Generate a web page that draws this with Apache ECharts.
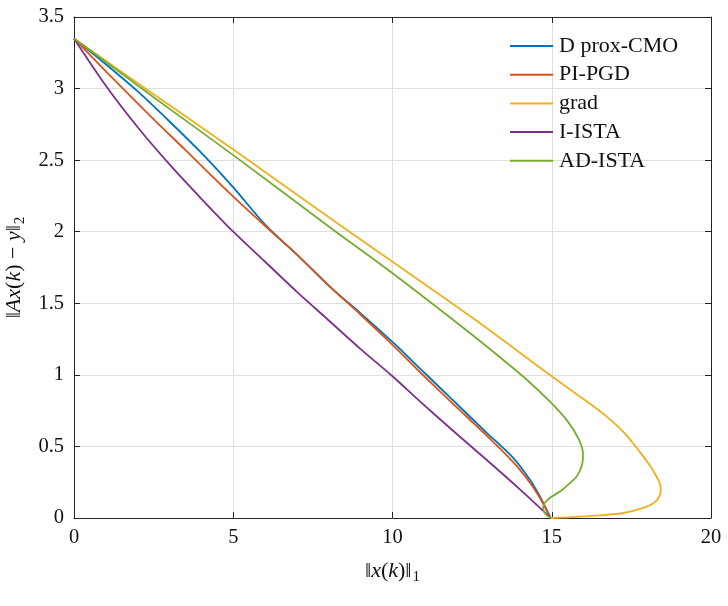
<!DOCTYPE html>
<html>
<head>
<meta charset="utf-8">
<script src="https://cdn.jsdelivr.net/npm/echarts@6/dist/echarts.min.js"></script>
<style>
html,body{margin:0;padding:0;background:#fff;}
#c{width:728px;height:606px;}
</style>
</head>
<body>
<div id="c"></div>
<script>
const seriesNames = ['D prox-CMO', 'PI-PGD', 'grad', 'I-ISTA', 'AD-ISTA'];
const seriesColors = ['#0072BD', '#D95319', '#EDB120', '#7E2F8E', '#77AC30'];

const proxX = [0, 1, 2, 3, 4, 5, 6, 7, 8.04, 9, 10, 10.86, 11.91, 12.96, 13.79, 14.32, 14.63, 14.84, 14.97];
const proxY = [3.35, 3.17, 2.98, 2.77, 2.55, 2.31, 2.05, 1.84, 1.615, 1.43, 1.23, 1.045, 0.82, 0.595, 0.42, 0.265, 0.15, 0.056, 0];

const pipgdX = [0, 1, 2.39, 3.5, 5, 6.25, 7, 8.04, 9, 10, 10.86, 11.91, 12.96, 13.79, 14.32, 14.63, 14.84, 14.95];
const pipgdY = [3.35, 3.12, 2.81, 2.57, 2.245, 1.99, 1.84, 1.615, 1.42, 1.21, 1.02, 0.795, 0.575, 0.39, 0.245, 0.14, 0.055, 0];

const gradX = [0, 2.5, 5, 7.5, 10, 12.5, 15, 16, 16.72, 17.3, 17.77, 18.1, 18.3, 18.4, 18.42, 18.38, 18.19, 17.8, 17.25, 16.6, 16.0, 15.5, 14.97];
const gradY = [3.35, 2.96, 2.575, 2.18, 1.79, 1.40, 0.99, 0.83, 0.71, 0.59, 0.46, 0.36, 0.285, 0.235, 0.195, 0.15, 0.103, 0.065, 0.035, 0.02, 0.011, 0.005, 0];

const iistaX = [0, 1, 2, 3, 4, 5, 6, 7, 8, 9, 10, 10.86, 12, 12.96, 14, 14.97];
const iistaY = [3.35, 3.02, 2.73, 2.47, 2.23, 2.0, 1.79, 1.58, 1.38, 1.18, 0.99, 0.815, 0.59, 0.405, 0.2, 0];

const adistaX = [0, 2.5, 5, 8.04, 10, 12.33, 13.5, 14.32, 15, 15.5, 15.85, 15.98, 15.95, 15.78, 15.5, 15.26, 15.0, 14.84, 14.75, 14.73, 14.8, 14.97];
const adistaY = [3.35, 2.94, 2.535, 2.03, 1.71, 1.31, 1.10, 0.945, 0.80, 0.675, 0.55, 0.45, 0.37, 0.29, 0.23, 0.185, 0.15, 0.12, 0.095, 0.07, 0.03, 0];

const xTicks = {min: 0, max: 20, interval: 5};
const yTicks = {min: 0, max: 3.5, interval: 0.5};

const allX = [proxX, pipgdX, gradX, iistaX, adistaX];
const allY = [proxY, pipgdY, gradY, iistaY, adistaY];

const FONT = '"Liberation Serif", "DejaVu Serif", serif';
const AXC = '#262626';

function zip(xs, ys) { return xs.map((x, i) => [x, ys[i]]); }

const series = seriesNames.map((name, i) => ({
  name: name,
  type: 'line',
  xAxisIndex: 0,
  yAxisIndex: 0,
  data: zip(allX[i], allY[i]),
  showSymbol: false,
  symbol: 'none',
  smooth: 0.3,
  lineStyle: {color: seriesColors[i], width: 1.8},
  itemStyle: {color: seriesColors[i]},
  z: 3 + i
}));

const rich = {
  n: {fontFamily: FONT, fontSize: 22, color: '#111'},
  i: {fontFamily: FONT, fontSize: 22, fontStyle: 'italic', color: '#111'},
  s: {fontFamily: FONT, fontSize: 15, color: '#111', padding: [12, 0, 0, 1]}
};

const chart = echarts.init(document.getElementById('c'), null, {renderer: 'canvas'});
chart.setOption({
  animation: false,
  backgroundColor: '#fff',
  grid: {left: 74, right: 17, top: 17, bottom: 88, containLabel: false, outerBoundsMode: 'none'},
  legend: {
    orient: 'vertical',
    left: 509,
    top: 35,
    padding: 0,
    itemWidth: 43,
    itemHeight: 6,
    itemGap: 6.7,
    itemStyle: {opacity: 0},
    data: seriesNames,
    textStyle: {fontFamily: FONT, fontSize: 22, lineHeight: 22, color: '#111', padding: [0, 0, 0, 1]}
  },
  xAxis: [{
    type: 'value',
    min: xTicks.min, max: xTicks.max, interval: xTicks.interval,
    position: 'bottom',
    name: '{n|‖}{i|x}{n|(}{i|k}{n|)‖}{s|1}',
    nameLocation: 'middle',
    nameGap: 40,
    nameTextStyle: {rich: rich},
    axisLine: {show: true, onZero: false, lineStyle: {color: AXC, width: 1}},
    axisTick: {show: true, inside: true, length: 6, lineStyle: {color: AXC}},
    axisLabel: {fontFamily: FONT, fontSize: 20.5, color: '#111', margin: 9},
    splitLine: {show: true, lineStyle: {color: '#dfdfdf', width: 1}}
  }, {
    type: 'value',
    min: xTicks.min, max: xTicks.max, interval: xTicks.interval,
    position: 'top',
    axisLine: {show: true, onZero: false, lineStyle: {color: AXC, width: 1}},
    axisTick: {show: true, inside: true, length: 6, lineStyle: {color: AXC}},
    axisLabel: {show: false},
    splitLine: {show: false}
  }],
  yAxis: [{
    type: 'value',
    min: yTicks.min, max: yTicks.max, interval: yTicks.interval,
    position: 'left',
    name: '{n|‖}{i|Ax}{n|(}{i|k}{n|) − }{i|y}{n|‖}{s|2}',
    nameLocation: 'middle',
    nameRotate: 90,
    nameGap: 44,
    nameTextStyle: {rich: rich},
    axisLine: {show: true, onZero: false, lineStyle: {color: AXC, width: 1}},
    axisTick: {show: true, inside: true, length: 6, lineStyle: {color: AXC}},
    axisLabel: {fontFamily: FONT, fontSize: 20.5, color: '#111', margin: 10},
    splitLine: {show: true, lineStyle: {color: '#dfdfdf', width: 1}}
  }, {
    type: 'value',
    min: yTicks.min, max: yTicks.max, interval: yTicks.interval,
    position: 'right',
    axisLine: {show: true, onZero: false, lineStyle: {color: AXC, width: 1}},
    axisTick: {show: true, inside: true, length: 6, lineStyle: {color: AXC}},
    axisLabel: {show: false},
    splitLine: {show: false}
  }],
  series: series
});
</script>
</body>
</html>
